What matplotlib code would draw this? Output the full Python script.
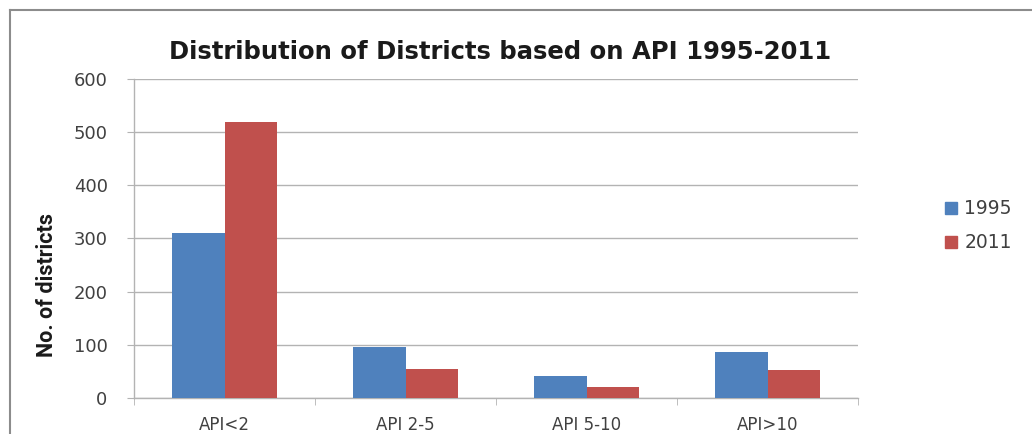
import matplotlib
matplotlib.use("Agg")
import matplotlib.pyplot as plt
from matplotlib.lines import Line2D
import numpy as np

categories = ["API<2", "API 2-5", "API 5-10", "API>10"]
series_names = ["1995", "2011"]
values_1995 = [310, 96, 42, 86]
values_2011 = [520, 54, 20, 53]
y_ticks = [0, 100, 200, 300, 400, 500, 600]

blue = "#4F81BD"
red = "#C0504D"
grid_c = "#B3B3B3"
txt_c = "#404040"

fig = plt.figure(figsize=(10.32, 4.34), dpi=100)
ax = fig.add_axes([134/1032, (434-398)/434, (858-134)/1032, (398-79)/434])

x = np.arange(len(categories))
w = 0.29
ax.bar(x - w/2, values_1995, width=w, color=blue, label=series_names[0], zorder=3)
ax.bar(x + w/2, values_2011, width=w, color=red, label=series_names[1], zorder=3)

ax.set_xlim(-0.5, len(categories) - 0.5)
ax.set_ylim(0, 600)
ax.set_yticks(y_ticks)
ax.set_yticklabels([str(v) for v in y_ticks])
ax.yaxis.grid(True, color=grid_c, linewidth=1.0, zorder=0)
ax.set_axisbelow(True)

for s in ["top", "right"]:
    ax.spines[s].set_visible(False)
for s in ["left", "bottom"]:
    ax.spines[s].set_color(grid_c)
    ax.spines[s].set_linewidth(1.0)

ax.tick_params(axis="y", length=5, color=grid_c, labelsize=13, labelcolor=txt_c, pad=14)
ax.set_xticks(x)
ax.set_xticklabels(categories)
ax.set_xticks(np.arange(-0.5, len(categories)), minor=True)
ax.tick_params(axis="x", which="major", length=0, labelsize=12, labelcolor=txt_c, pad=13)
ax.tick_params(axis="x", which="minor", length=5, color=grid_c)

fig.text(500, 434 - 52, "Distribution of Districts based on API 1995-2011",
         transform=None, ha="center", va="center", fontsize=17.5, fontweight="bold",
         color="#1a1a1a")
fig.text(47, 434 - 285, "No. of districts", transform=None, rotation=90,
         ha="center", va="center", fontsize=15.5, fontweight="bold",
         family=["Roboto", "DejaVu Sans"], color="#1a1a1a")

leg = fig.legend(handles=[plt.Rectangle((0, 0), 1, 1, color=blue),
                          plt.Rectangle((0, 0), 1, 1, color=red)],
                 labels=series_names, loc="center left",
                 bbox_to_anchor=(936/1032, (434-226)/434), frameon=False,
                 fontsize=13.5, handlelength=0.6, handleheight=0.6,
                 handletextpad=0.4, labelspacing=0.8, borderpad=0)
for t in leg.get_texts():
    t.set_color(txt_c)

# outer frame
fig.add_artist(Line2D([10/1032, 10/1032], [0, (434-10)/434], color="#8c8c8c", linewidth=1.5))
fig.add_artist(Line2D([10/1032, 1.0], [(434-10)/434, (434-10)/434], color="#8c8c8c", linewidth=1.5))

fig.savefig("out.png", dpi=100)
